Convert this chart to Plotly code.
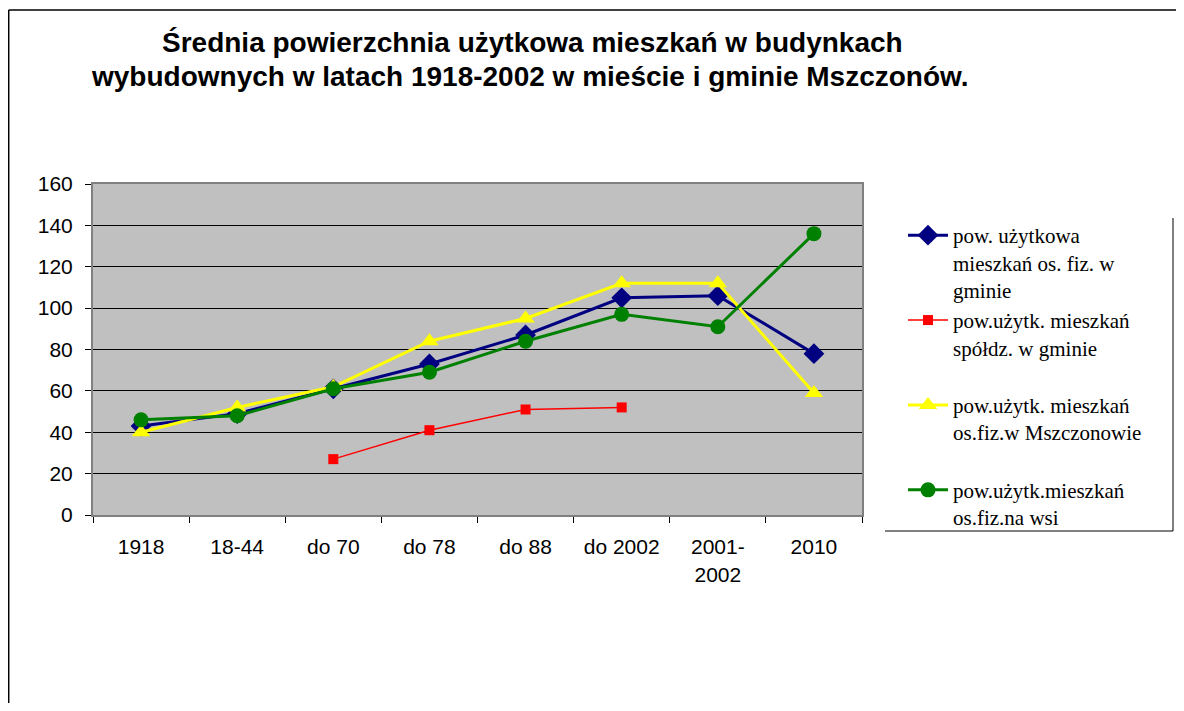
import plotly.graph_objects as go

categories = ["1918", "18-44", "do 70", "do 78", "do 88", "do 2002", "2001-<br>2002", "2010"]
gmina_osfiz = [43, 49, 61, 73, 87, 105, 106, 78]
gmina_spoldz = [None, None, 27, 41, 51, 52, None, None]
miasto_osfiz = [40, 52, 62, 84, 95, 112, 112, 59]
wies_osfiz = [46, 48, 61, 69, 84, 97, 91, 136]

names = [
    "pow. użytkowa<br>mieszkań os. fiz. w<br>gminie",
    "pow.użytk. mieszkań<br>spółdz. w gminie<br> ",
    "pow.użytk. mieszkań<br>os.fiz.w Mszczonowie<br> ",
    "pow.użytk.mieszkań<br>os.fiz.na wsi",
]

# screen geometry (page body has an 8px margin)
OFF = 8
SW, SH = 1184, 711
L, R, T, B = 93, 862, 184, 515

fig = go.Figure()
fig.add_trace(go.Scatter(x=categories, y=gmina_osfiz, name=names[0], mode="lines+markers",
                         line=dict(color="#000080", width=3),
                         marker=dict(symbol="diamond", size=16, color="#000080")))
fig.add_trace(go.Scatter(x=categories, y=gmina_spoldz, name=names[1], mode="lines+markers",
                         line=dict(color="#FF0000", width=1.5),
                         marker=dict(symbol="square", size=10, color="#FF0000")))
fig.add_trace(go.Scatter(x=categories, y=miasto_osfiz, name=names[2], mode="lines+markers",
                         line=dict(color="#FFFF00", width=3),
                         marker=dict(symbol="triangle-up", size=16, color="#FFFF00")))
fig.add_trace(go.Scatter(x=categories, y=wies_osfiz, name=names[3], mode="lines+markers",
                         line=dict(color="#008000", width=3),
                         marker=dict(symbol="circle", size=15, color="#008000")))

def px(x):
    return (x - L) / (R - L)

def py(y):
    return (B - y) / (B - T)

shapes = [
    # chart frame (left and top)
    dict(type="line", xref="paper", yref="paper", x0=px(8.7), x1=px(8.7), y0=py(10), y1=py(SH + 5),
         line=dict(color="#000000", width=1.5)),
    dict(type="line", xref="paper", yref="paper", x0=px(8.7), x1=px(SW + 5), y0=py(10), y1=py(10),
         line=dict(color="#000000", width=1.5)),
    # legend box (bottom and right)
    dict(type="line", xref="paper", yref="paper", x0=px(885), x1=px(1173), y0=py(531), y1=py(531),
         line=dict(color="#000000", width=1)),
    dict(type="line", xref="paper", yref="paper", x0=px(1173), x1=px(1173), y0=py(218), y1=py(531),
         line=dict(color="#000000", width=1)),
]

fig.update_layout(
    width=SW - OFF - 2, height=SH - 2 * OFF,
    margin=dict(l=L - OFF, r=SW - R - 2, t=T - OFF, b=SH - OFF - B, pad=0),
    paper_bgcolor="white",
    plot_bgcolor="#C0C0C0",
    showlegend=True,
    legend=dict(x=px(903), y=py(215), xanchor="left", yanchor="top",
                font=dict(family="Liberation Serif", size=21, color="black"),
                bgcolor="rgba(0,0,0,0)", valign="top", tracegroupgap=0, itemwidth=40),
    shapes=shapes,
    annotations=[
        dict(text="<b>Średnia powierzchnia użytkowa mieszkań w budynkach</b>", xref="paper", yref="paper",
             x=px(532), y=py(42), showarrow=False, xanchor="center", yanchor="middle",
             font=dict(family="Liberation Sans", size=28, color="black")),
        dict(text="<b>wybudownych w latach 1918-2002 w mieście i gminie Mszczonów.</b>", xref="paper", yref="paper",
             x=px(530), y=py(76), showarrow=False, xanchor="center", yanchor="middle",
             font=dict(family="Liberation Sans", size=28, color="black")),
    ],
)

fig.update_xaxes(type="category", tickson="boundaries", ticks="outside", ticklen=6, tickcolor="black",
                 showline=True, linecolor="#808080", linewidth=2, mirror=True,
                 showgrid=False, tickfont=dict(family="Liberation Sans", size=21, color="black"),
                 ticklabelstandoff=12, range=[-0.5, 7.5])
fig.update_yaxes(range=[0, 160], dtick=20, ticks="outside", ticklen=6, tickcolor="black",
                 showline=True, linecolor="#808080", linewidth=2, mirror=True,
                 showgrid=True, gridcolor="black", gridwidth=1, zeroline=False,
                 ticklabelstandoff=8,
                 tickfont=dict(family="Liberation Sans", size=21, color="black"))

fig.write_html("out.html")
